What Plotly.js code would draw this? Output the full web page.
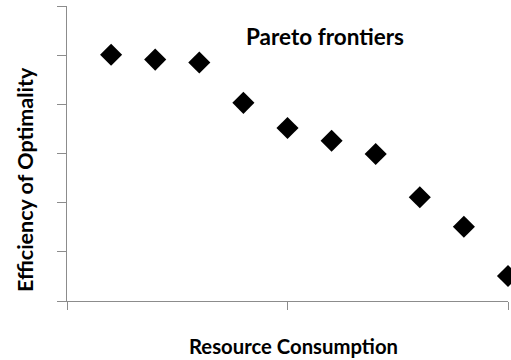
<!DOCTYPE html>
<html>
<head>
<meta charset="utf-8">
<script src="https://cdn.plot.ly/plotly-3.0.1.min.js"></script>
<style>html,body{margin:0;padding:0;background:#fff;}#chart{width:511px;height:360px;}</style>
</head>
<body>
<div id="chart"></div>
<script>
var resourceConsumption = [1, 2, 3, 4, 5, 6, 7, 8, 9, 10];
var efficiency = [5.01, 4.91, 4.85, 4.03, 3.52, 3.26, 2.99, 2.11, 1.51, 0.51];
var xTickVals = [0, 5, 10];
var yTickVals = [0, 1, 2, 3, 4, 5, 6];
var chartTitle = "Pareto frontiers";
var xTitle = "Resource Consumption";
var yTitle = "Efficiency of Optimality";

var fontFam = "Lato, 'Open Sans', sans-serif";
var axisColor = "#8c8c8c";

var trace = {
  x: resourceConsumption,
  y: efficiency,
  type: "scatter",
  mode: "markers",
  marker: {symbol: "diamond", size: 17, color: "#000000"},
  cliponaxis: false,
  hoverinfo: "none"
};

var layout = {
  width: 511, height: 360,
  margin: {l: 67, r: 3, t: 6, b: 59.3},
  paper_bgcolor: "#ffffff",
  plot_bgcolor: "#ffffff",
  showlegend: false,
  xaxis: {
    range: [0, 10], tickmode: "array", tickvals: xTickVals,
    showticklabels: false, ticks: "outside", ticklen: 8, tickcolor: axisColor, tickwidth: 1,
    showgrid: false, zeroline: false, showline: true, linecolor: axisColor, linewidth: 1,
    fixedrange: true
  },
  yaxis: {
    range: [0, 6], tickmode: "array", tickvals: yTickVals,
    showticklabels: false, ticks: "outside", ticklen: 9, tickcolor: axisColor, tickwidth: 1,
    showgrid: false, zeroline: false, showline: true, linecolor: axisColor, linewidth: 1,
    fixedrange: true
  },
  annotations: [
    {text: chartTitle, xref: "paper", yref: "paper", x: 0.586, y: 0.896, xanchor: "center", yanchor: "middle",
     showarrow: false, font: {family: fontFam, size: 22.5, color: "#000", weight: 700}},
    {text: xTitle, xref: "paper", yref: "paper", x: 0.5125, y: -0.154, xanchor: "center", yanchor: "middle",
     showarrow: false, font: {family: fontFam, size: 20.3, color: "#000", weight: 700}},
    {text: yTitle, xref: "paper", yref: "paper", x: -0.0952, y: 0.41, xanchor: "center", yanchor: "middle",
     textangle: -90, showarrow: false, font: {family: fontFam, size: 21.5, color: "#000", weight: 700}}
  ]
};

Plotly.newPlot("chart", [trace], layout, {displayModeBar: false, staticPlot: true});
</script>
</body>
</html>
